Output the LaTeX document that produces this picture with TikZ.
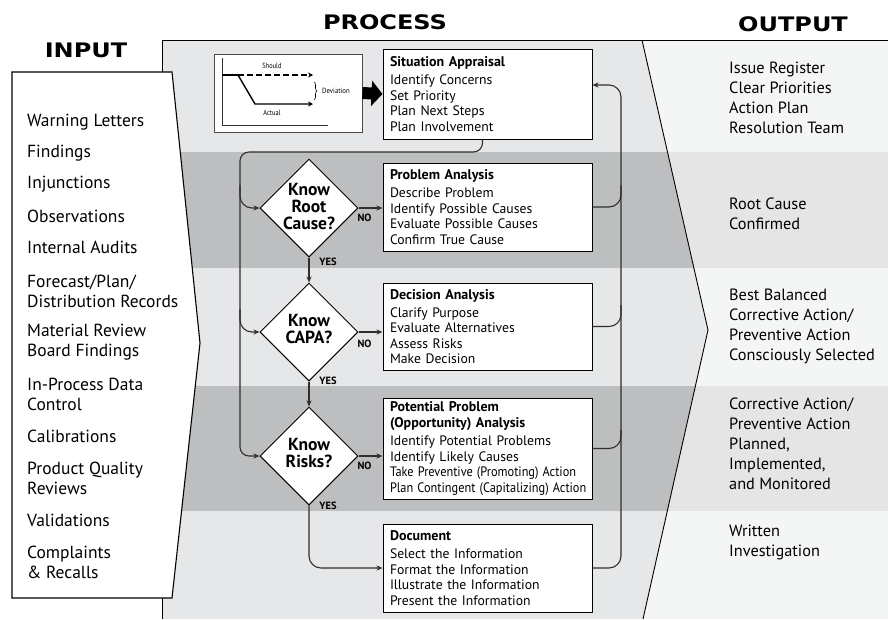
\documentclass[tikz,border=0pt]{standalone}
\usepackage{fontspec}
\setmainfont{PT Sans}
\newfontfamily\titlefont{DejaVu Sans}
\usetikzlibrary{shapes.geometric,arrows.meta,calc,decorations.pathreplacing}
\definecolor{proclight}{HTML}{E6E7E8}
\definecolor{procdark}{HTML}{BCBEC0}
\definecolor{outlight}{HTML}{F4F5F5}
\definecolor{outband}{HTML}{E5E5E5}
\definecolor{railc}{HTML}{2E2E2E}
\newcommand{\narrowline}[2]{\scalebox{#1}[1]{#2}}
\begin{document}
\begin{tikzpicture}[x=1pt,y=-1pt,
  ttl/.style={font=\titlefont\bfseries\fontsize{20}{20}\selectfont, inner sep=0},
  intext/.style={font=\fontsize{17.5}{20}\selectfont, align=left, anchor=west, inner sep=0},
  outtext/.style={font=\fontsize{16.3}{20}\selectfont, align=left, anchor=west, inner sep=0},
  procbox/.style={draw=black, line width=1pt, fill=white, minimum width=209pt, text width=195pt, inner xsep=7pt, inner ysep=0pt, align=left, font=\fontsize{13.7}{15.5}\selectfont},
  dia/.style={diamond, aspect=1, draw=black, line width=1pt, fill=white, minimum width=98pt, minimum height=98pt, inner sep=0},
  diatext/.style={font=\bfseries\fontsize{17.5}{17}\selectfont, align=center, inner sep=0},
  lbl/.style={font=\bfseries\fontsize{10.5}{11}\selectfont, inner sep=0},
  conn/.style={draw=railc, line width=1.1pt, -{Stealth[length=6pt,width=5pt]}},
  railline/.style={draw=railc, line width=1.1pt},
  small/.style={font=\fontsize{7.5}{8}\selectfont, inner sep=0},
]
\useasboundingbox (0,0) rectangle (888,619);
\fill[white] (0,0) rectangle (888,619);
% process panel and bands
\fill[proclight] (162,40) rectangle (888,619);
\fill[procdark] (162,152) rectangle (888,268);
\fill[procdark] (162,386) rectangle (888,511);
% output region
\fill[outlight] (642,40) -- (888,40) -- (888,619) -- (643,619) -- (708,330) -- cycle;
\begin{scope}
  \clip (642,40) -- (888,40) -- (888,619) -- (643,619) -- (708,330) -- cycle;
  \fill[outband] (600,152) rectangle (888,268);
  \fill[outband] (600,386) rectangle (888,511);
\end{scope}
\draw[line width=0.9pt] (642,40) -- (708,330) -- (643,619);
\draw[line width=1pt] (162,619) -- (162,40) -- (888,40);
% input panel
\draw[line width=1.1pt, fill=white] (12,72) -- (172,72) -- (200,343) -- (172,598) -- (12,598) -- cycle;
% titles
\node[ttl] (tin) at (86,50) {\scalebox{1.2}[1]{INPUT}};
\node[ttl] (tpr) at (385,22) {\scalebox{1.2}[1]{PROCESS}};
\node[ttl] (tout) at (793,24.5) {\scalebox{1.2}[1]{OUTPUT}};
% input items
\node[intext] (i1) at (27,122) {Warning Letters};
\node[intext] (i2) at (27,153) {Findings};
\node[intext] (i3) at (27,184) {Injunctions};
\node[intext] (i4) at (27,216) {Observations};
\node[intext] (i5) at (27,247) {Internal Audits};
\node[intext] (i6) at (27,291.5) {Forecast/Plan/\\Distribution Records};
\node[intext] (i7) at (27,342.5) {Material Review\\Board Findings};
\node[intext] (i8) at (27,394) {In-Process Data\\Control};
\node[intext] (i9) at (27,436) {Calibrations};
\node[intext] (i10) at (27,478) {Product Quality\\Reviews};
\node[intext] (i11) at (27,520) {Validations};
\node[intext] (i12) at (27,562.5) {Complaints\\\& Recalls};
% output items
\node[outtext] (o1) at (729,98) {Issue Register\\Clear Priorities\\Action Plan\\Resolution Team};
\node[outtext] (o2) at (729,213.5) {Root Cause\\Confirmed};
\node[outtext] (o3) at (729,326.5) {Best Balanced\\Corrective Action/\\Preventive Action\\Consciously Selected};
\node[outtext] (o4) at (729,444) {Corrective Action/\\Preventive Action\\Planned,\\Implemented,\\and Monitored};
\node[outtext] (o5) at (729,542.5) {Written\\Investigation};
% deviation chart
\node[draw=black!70, line width=0.7pt, fill=white, minimum width=148pt, minimum height=78pt, inner sep=0] (chart) at (288,93) {};
\draw[line width=0.7pt, black!80] (222,58) -- (222,125) -- (328,125);
\draw[line width=1.4pt] (222,75) -- (238,75);
\draw[line width=1.4pt, dash pattern=on 5.5pt off 3.5pt, -{Stealth[length=5pt,width=5pt]}] (238,75) -- (313,75);
\draw[line width=1.4pt, -{Stealth[length=5pt,width=5pt]}] (238,75) -- (255,104) -- (313,104);
\node[small] (should) at (272,66) {\scalebox{0.85}[1]{Should}};
\node[small] (actual) at (272,113) {\scalebox{0.85}[1]{Actual}};
\draw[line width=0.6pt, decorate, decoration={brace, amplitude=3pt}] (314,82) -- (314,100);
\node[small] (dev) at (336,91) {\scalebox{0.9}[1]{Deviation}};
% process boxes
\node[procbox, minimum height=90pt] (sa) at (487.5,94) {{\bfseries\fontsize{14}{15.5}\selectfont Situation Appraisal}\\[2.5pt]Identify Concerns\\Set Priority\\Plan Next Steps\\Plan Involvement};
\node[procbox, minimum height=88pt] (pa) at (487.5,207) {{\bfseries\fontsize{14}{15.5}\selectfont Problem Analysis}\\[2.5pt]Describe Problem\\Identify Possible Causes\\Evaluate Possible Causes\\Confirm True Cause};
\node[procbox, minimum height=87pt] (da) at (487.5,326.5) {{\bfseries\fontsize{14}{15.5}\selectfont Decision Analysis}\\[2.5pt]Clarify Purpose\\Evaluate Alternatives\\Assess Risks\\Make Decision};
\node[procbox, minimum height=101pt] (ppa) at (487.5,448.5) {{\bfseries\fontsize{14}{15.5}\selectfont Potential Problem}\\{\bfseries\fontsize{14}{15.5}\selectfont (Opportunity) Analysis}\\[3pt]Identify Potential Problems\\Identify Likely Causes\\\narrowline{0.9}{Take Preventive (Promoting) Action}\\\narrowline{0.9}{Plan Contingent (Capitalizing) Action}};
\node[procbox, minimum height=88pt] (doc) at (487.5,568) {{\bfseries\fontsize{14}{15.5}\selectfont Document}\\[2.5pt]Select the Information\\Format the Information\\Illustrate the Information\\Present the Information};
% big arrow
\draw[line width=12pt, -{Triangle[length=11pt,width=25pt]}] (chart.east) -- (sa.west);
% diamonds
\node[dia] (d1) at (309,208) {};
\node[diatext] (t1) at (309,206.5) {Know\\Root\\Cause?};
\node[dia] (d2) at (309,332) {};
\node[diatext] (t2) at (309,328.5) {Know\\CAPA?};
\node[dia] (d3) at (309,456) {};
\node[diatext] (t3) at (309,452.5) {Know\\Risks?};
% labels
\node[lbl] (no1) at (364.5,218) {NO};
\node[lbl] (no2) at (364.5,344) {NO};
\node[lbl] (no3) at (364.5,466) {NO};
\node[lbl] (yes1) at (328,262) {YES};
\node[lbl] (yes2) at (328,381) {YES};
\node[lbl] (yes3) at (328,506) {YES};
% left rail
\coordinate (lt) at (240,152);
\coordinate (l1) at (240,185);
\coordinate (l2) at (240,309);
\draw[conn, rounded corners=9pt] ($(sa.south)+(-5,0)$) |- (lt) |- (d3.west);
\draw[conn, rounded corners=12pt] (l1) |- (d1.west);
\draw[conn, rounded corners=12pt] (l2) |- (d2.west);
% yes / no
\draw[conn] (d1.south) -- (d2.north);
\draw[conn] (d2.south) -- (d3.north);
\draw[conn, rounded corners=12pt] (d3.south) |- (doc.west);
\draw[conn] (d1.east) -- (d1.east -| pa.west);
\draw[conn] (d2.east) -- (d2.east -| da.west);
\draw[conn] (d3.east) -- (d3.east -| ppa.west);
% right rail
\coordinate (rt) at (621,85);
\coordinate (r1) at (621,185);
\coordinate (r2) at (621,305);
\coordinate (r3) at (621,430);
\draw[conn, rounded corners=12pt] (doc.east) -| (rt) -- (rt -| sa.east);
\draw[railline, rounded corners=12pt] (pa.east) -| (r1);
\draw[railline, rounded corners=12pt] (da.east) -| (r2);
\draw[railline, rounded corners=12pt] (ppa.east) -| (r3);
\end{tikzpicture}
\end{document}
